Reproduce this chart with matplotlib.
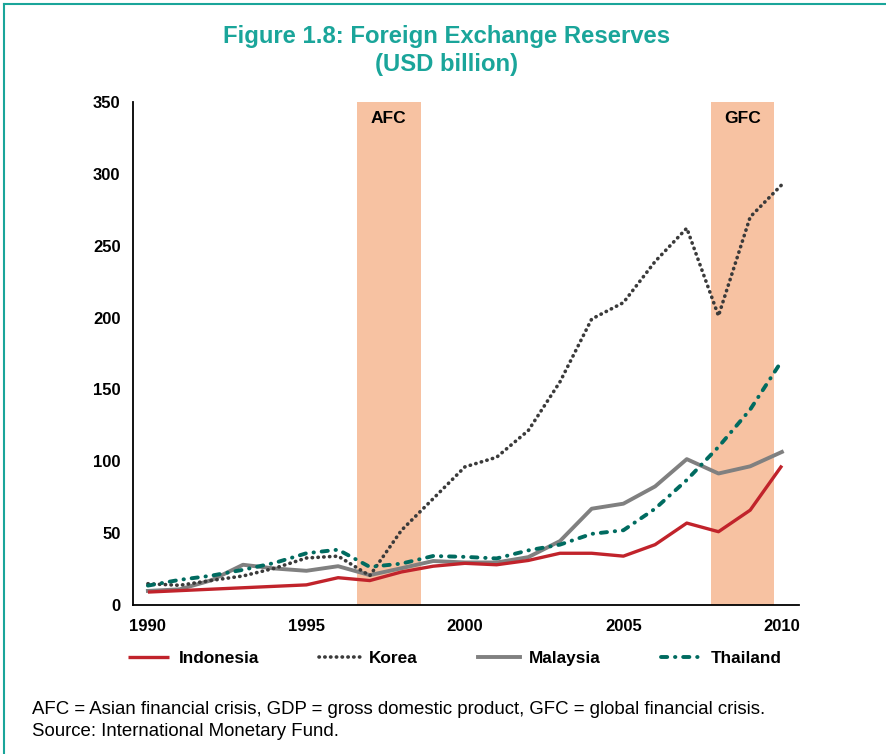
import matplotlib
matplotlib.use("Agg")
import matplotlib.pyplot as plt
from matplotlib.lines import Line2D

plt.rcParams['font.family'] = ['Liberation Sans', 'DejaVu Sans']

years = list(range(1990, 2011))
indonesia = [9, 10, 11, 12, 13, 14, 19, 17, 23, 27, 29, 28, 31, 36, 36, 34, 42, 57, 51, 66, 97]
korea = [14.8, 13.7, 17.1, 20.2, 25.6, 32.7, 34.0, 20.4, 52.0, 74.0, 96.1, 102.8, 121.4, 155.3, 199.0, 210.4, 239.0, 262.2, 201.2, 270.0, 292.5]
malaysia = [9.8, 10.9, 17.2, 28.0, 25.4, 23.8, 27.0, 20.8, 25.6, 30.6, 29.6, 29.6, 33.3, 44.5, 67.0, 70.5, 82.5, 101.5, 91.5, 96.5, 106.5]
thailand = [13.5, 17.5, 20.4, 24.5, 29.3, 36.0, 38.5, 26.5, 28.8, 34.1, 33.5, 32.4, 38.0, 42.0, 49.5, 52.0, 67.0, 87.0, 110.0, 136.0, 170.0]

series_names = ["Indonesia", "Korea", "Malaysia", "Thailand"]
crises = [("AFC", 1996.6, 1998.6), ("GFC", 2007.75, 2009.75)]
yticks = [0, 50, 100, 150, 200, 250, 300, 350]
xticks = [1990, 1995, 2000, 2005, 2010]

teal_title = "#1AA59A"
shade = "#F7C2A2"

fig = plt.figure(figsize=(8.86, 7.54), dpi=100)
ax = fig.add_axes([133/886, 1-605/754, (799-133)/886, (605-102)/754])

for name, x0, x1 in crises:
    ax.axvspan(x0, x1, color=shade, lw=0, zorder=0)
    ax.text((x0+x1)/2, 344, name, ha="center", va="top", fontsize=12.5, fontweight="bold", color="black")

ax.plot(years, indonesia, color="#C1232B", lw=2.4, solid_capstyle="butt", zorder=3, label="Indonesia")
ax.plot(years, korea, color="#3A3A3A", lw=2.6, linestyle=(0, (0.1, 1.5)), dash_capstyle="round", zorder=3, label="Korea")
ax.plot(years, malaysia, color="#808080", lw=2.8, zorder=2, label="Malaysia")
ax.plot(years, thailand, color="#006B60", lw=2.8, linestyle=(0, (1.6, 2.0, 0.1, 2.0)), dash_capstyle="round", zorder=4, label="Thailand")

ax.set_xlim(1989.53, 2010.54)
ax.set_ylim(0, 350)
ax.set_yticks(yticks)
ax.set_xticks(xticks)
ax.tick_params(length=0, labelsize=12)
ax.tick_params(axis="x", pad=10)
ax.tick_params(axis="y", pad=9)
for lab in ax.get_xticklabels() + ax.get_yticklabels():
    lab.set_fontweight("bold")
for s in ["top", "right"]:
    ax.spines[s].set_visible(False)
for s in ["left", "bottom"]:
    ax.spines[s].set_linewidth(1.3)
    ax.spines[s].set_color("black")

fig.text(447/886, 1-36/754, "Figure 1.8: Foreign Exchange Reserves", ha="center", va="center",
         fontsize=17.2, fontweight="bold", color=teal_title)
fig.text(447/886, 1-65/754, "(USD billion)", ha="center", va="center",
         fontsize=17.2, fontweight="bold", color=teal_title)

handles, labels = ax.get_legend_handles_labels()
leg = fig.legend(handles, labels, loc="center", bbox_to_anchor=(455/886, 1-658/754), ncol=4,
                 frameon=False, prop={"weight": "bold", "size": 12.4}, handlelength=2.4,
                 handletextpad=0.52, columnspacing=3.5)

fig.text(32/886, 1-709/754, "AFC = Asian financial crisis, GDP = gross domestic product, GFC = global financial crisis.",
         ha="left", va="center", fontsize=13.4)
fig.text(32/886, 1-731/754, "Source: International Monetary Fund.", ha="left", va="center", fontsize=13.4)

# frame lines
fig.add_artist(Line2D([4/886, 4/886], [0, 1-4/754], transform=fig.transFigure, color=teal_title, lw=1.5))
fig.add_artist(Line2D([4/886, 1], [1-4/754, 1-4/754], transform=fig.transFigure, color=teal_title, lw=1.5))

fig.savefig("out.png", dpi=100)
